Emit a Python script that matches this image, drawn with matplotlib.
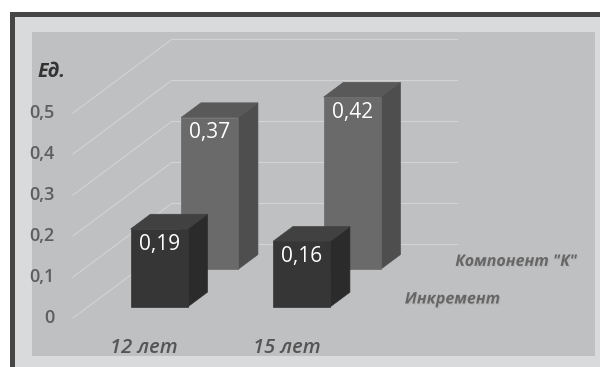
import matplotlib
matplotlib.use("Agg")
import matplotlib.pyplot as plt
from matplotlib.patches import Polygon, Rectangle
import matplotlib.patheffects as pe

plt.rcParams["font.family"] = ["Open Sans", "DejaVu Sans"]

# data
categories = ["12 лет", "15 лет"]
series_names = ["Инкремент", 'Компонент "К"']
increment = [0.19, 0.16]
component_k = [0.37, 0.42]
y_ticks = [0, 0.1, 0.2, 0.3, 0.4, 0.5]
y_tick_labels = ["0", "0,1", "0,2", "0,3", "0,4", "0,5"]
unit_label = "Ед."

# fake 3D (oblique) settings, in data units
DX, DY = 0.695, 0.18          # full depth of the floor
HALF_W = 0.2                  # half bar width
ROW_Z = [0.15, 0.66]          # depth where each series row starts
BAR_D = 0.2                   # bar depth
FACES = [("#363636", "#2b2b2b", "#414141"),   # front, side, top
         ("#6a6a6a", "#4e4e4e", "#595959")]

fig = plt.figure(figsize=(6, 3.67), dpi=100)
fig.patch.set_facecolor("white")
W, H = 600, 367


def box(x0, y0, x1, y1):
    # pixel box (top-left origin) -> figure fraction rect
    return (x0 / W, (H - y1) / H), (x1 - x0) / W, (y1 - y0) / H


for (x0, y0, x1, y1), c in [((10, 12, 600, 367), "#464646"),
                            ((15, 17, 600, 367), "#d9dadb")]:
    xy, w, h = box(x0, y0, x1, y1)
    fig.add_artist(Rectangle(xy, w, h, transform=fig.transFigure,
                             facecolor=c, edgecolor="none", zorder=-5))

ax = fig.add_axes([32 / W, 11 / H, 563 / W, 324 / H], zorder=1)
ax.set_facecolor("#bfc0c2")
ax.set_xlim(-0.7877, 3.1632)
ax.set_ylim(-0.0927, 0.6976)
for sp in ax.spines.values():
    sp.set_visible(False)
ax.set_xticks([])
ax.set_yticks([])

left, right = -0.5, len(categories) - 0.5

# walls: side diagonals and back gridlines
for v in y_ticks:
    ax.plot([left, left + DX], [v, v + DY], color="#d2d3d5", lw=0.8, zorder=1)
    ax.plot([left + DX, right + DX], [v + DY, v + DY], color="#d2d3d5", lw=0.8, zorder=1)

# bars, back row first
for s in [1, 0]:
    vals = [increment, component_k][s]
    z0 = ROW_Z[s]
    z1 = z0 + BAR_D
    c_front, c_side, c_top = FACES[s]
    for i, v in enumerate(vals):
        x0, x1 = i - HALF_W, i + HALF_W
        front = [(x0 + z0 * DX, z0 * DY), (x1 + z0 * DX, z0 * DY),
                 (x1 + z0 * DX, v + z0 * DY), (x0 + z0 * DX, v + z0 * DY)]
        side = [(x1 + z0 * DX, z0 * DY), (x1 + z1 * DX, z1 * DY),
                (x1 + z1 * DX, v + z1 * DY), (x1 + z0 * DX, v + z0 * DY)]
        top = [(x0 + z0 * DX, v + z0 * DY), (x1 + z0 * DX, v + z0 * DY),
               (x1 + z1 * DX, v + z1 * DY), (x0 + z1 * DX, v + z1 * DY)]
        for poly, c in [(side, c_side), (top, c_top), (front, c_front)]:
            ax.add_patch(Polygon(poly, closed=True, facecolor=c,
                                 edgecolor=c, lw=0.5, zorder=3 + (1 - s)))
        ax.annotate(f"{v:.2f}".replace(".", ","), (i + z0 * DX, v + z0 * DY),
                    xytext=(0, -15), textcoords="offset pixels",
                    ha="center", va="center", color="white", fontsize=15,
                    zorder=6)

# value axis labels
for v, lab in zip(y_ticks, y_tick_labels):
    ax.annotate(lab, (left, v), xytext=(-18, 0), textcoords="offset pixels",
                ha="right", va="center", color="#5e5e5e", fontsize=13,
                fontweight="semibold")
ax.annotate(unit_label, (left, 0.6), xytext=(-35, 0), textcoords="offset pixels",
            ha="left", va="center", color="#333333", fontsize=14,
            fontweight="bold", fontstyle="italic")

# category labels
for i, cat in enumerate(categories):
    ax.annotate(cat, (i, 0), xytext=(0, -30), textcoords="offset pixels",
                ha="center", va="center", color="#555555", fontsize=14.5,
                fontweight="semibold", fontstyle="italic")

# series labels along the depth axis
shadow = [pe.SimplePatchShadow(offset=(1, -1), shadow_rgbFace="#b0b0b0", alpha=0.5),
          pe.Normal()]
for s, name in enumerate(series_names):
    zc = ROW_Z[s] + BAR_D / 2
    ax.annotate(name, (right + zc * DX, zc * DY), xytext=(22, 0),
                textcoords="offset pixels", ha="left", va="center",
                color="#666666", fontsize=11.5, fontweight="bold",
                fontstyle="italic", path_effects=shadow)

fig.savefig("out.png", dpi=100)
